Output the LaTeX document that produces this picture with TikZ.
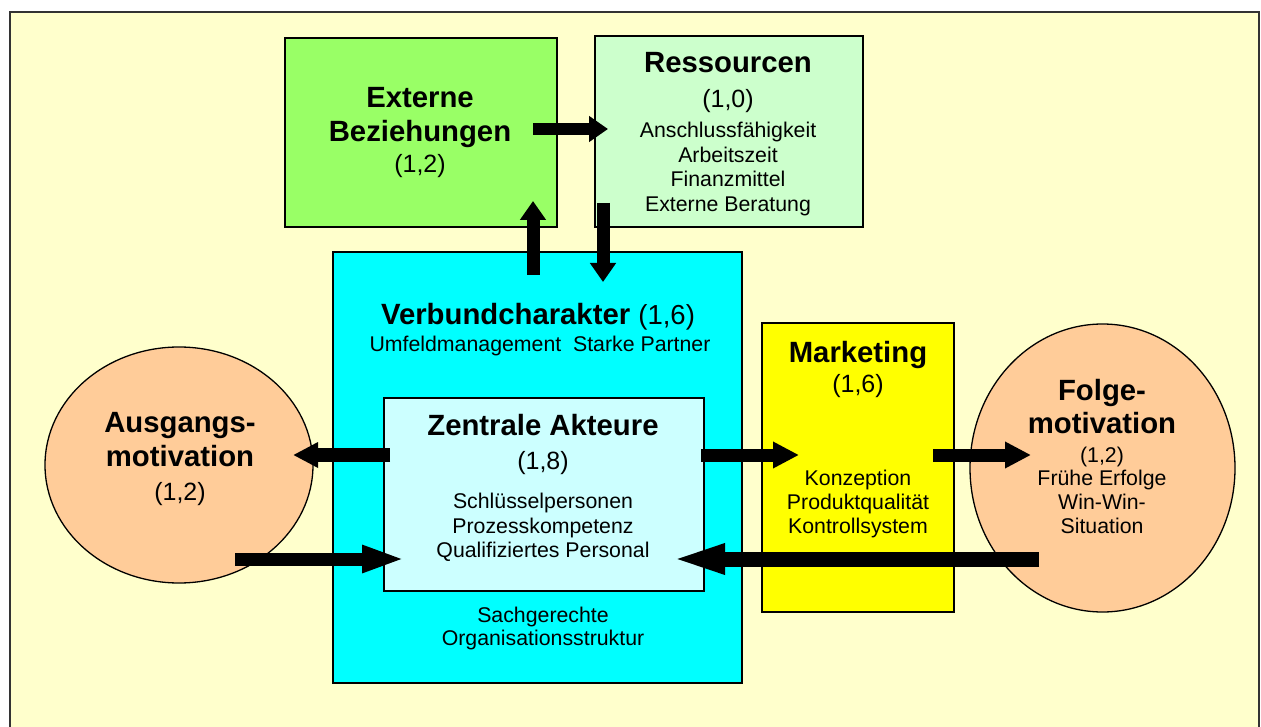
\documentclass[tikz,border=0pt]{standalone}
\usepackage{fontspec}
\setmainfont{Liberation Sans}
\usetikzlibrary{arrows.meta,shapes.geometric}
\definecolor{bgyellow}{HTML}{FFFFCC}
\definecolor{extgreen}{HTML}{99FF66}
\definecolor{resgreen}{HTML}{CCFFCC}
\definecolor{verbcyan}{HTML}{00FFFF}
\definecolor{zentcyan}{HTML}{CCFFFF}
\definecolor{mktyellow}{HTML}{FFFF00}
\definecolor{peach}{HTML}{FFCC99}
\newcommand{\ttlfont}{\bfseries\fontsize{29.3}{34}\selectfont}
\newcommand{\numfont}{\fontsize{25}{30}\selectfont}
\newcommand{\smlfont}{\fontsize{21.3}{24.5}\selectfont}
\tikzset{
  box/.style={draw=black, line width=1.5pt, inner sep=0pt},
  oval/.style={ellipse, draw=black, line width=1.3pt, inner sep=0pt},
  txt/.style={anchor=base, inner sep=0pt, align=center},
  ttl/.style={txt, font=\ttlfont},
  num/.style={txt, font=\numfont},
  sml/.style={txt, font=\smlfont},
  fat/.style args={#1/#2/#3}{draw=black, line width=#1, -{Triangle[length=#2,width=#3]}},
}
\begin{document}
\begin{tikzpicture}[x=1pt,y=-1pt]
\useasboundingbox (0,0) rectangle (1261,727);
\fill[white] (0,0) rectangle (1261,727);
% frame
\node[box, fill=bgyellow, line width=2pt, draw=black!80, minimum width=1249pt, minimum height=740pt, anchor=north west] (frame) at (8.5,11) {};
% boxes
\node[box, fill=extgreen, minimum width=272pt, minimum height=189pt] (ext) at (421,132.5) {};
\node[box, fill=resgreen, minimum width=268pt, minimum height=191pt] (res) at (729,131.5) {};
\node[box, fill=verbcyan, minimum width=409pt, minimum height=431pt] (verb) at (537.5,467.5) {};
\node[box, fill=zentcyan, minimum width=320pt, minimum height=193pt] (zent) at (544,494.5) {};
\node[box, fill=mktyellow, minimum width=192pt, minimum height=289pt] (mkt) at (858,467.5) {};
\node[oval, fill=peach, minimum width=268pt, minimum height=236pt] (aus) at (179,465) {};
\node[oval, fill=peach, minimum width=265pt, minimum height=288pt] (folge) at (1102.5,468) {};
% arrow end points
\coordinate (e1) at (533,129);  \coordinate (r1) at (608,129);
\coordinate (v1) at (533,275);  \coordinate (e2) at (533,201);
\coordinate (r2) at (603,203);  \coordinate (v2) at (603,282);
\coordinate (z1) at (390,455);  \coordinate (a1) at (293,455);
\coordinate (a2) at (235,559);  \coordinate (z2) at (405,559);
\coordinate (z3) at (701,455);  \coordinate (m1) at (799,455);
\coordinate (m2) at (933,455);  \coordinate (f1) at (1031,455);
\coordinate (f2) at (1039,559); \coordinate (z4) at (667,559);
% arrows
\draw[fat=12pt/19pt/25pt] (e1) -- (r1);
\draw[fat=13pt/19pt/25pt] (v1) -- (e2);
\draw[fat=13pt/19pt/25pt] (r2) -- (v2);
\draw[fat=14pt/25pt/24pt] (z1) -- (a1);
\draw[fat=13pt/43pt/25pt] (a2) -- (z2);
\draw[fat=13pt/26pt/25pt] (z3) -- (m1);
\draw[fat=13pt/26pt/25pt] (m2) -- (f1);
\draw[fat=15pt/58pt/26pt] (f2) -- (z4);
% texts: Externe Beziehungen
\node[ttl] (extT1) at (420,108) {Externe};
\node[ttl] (extT2) at (420,142) {Beziehungen};
\node[num] (extT3) at (420,173) {(1,2)};
% Ressourcen
\node[ttl] (resT1) at (728,73) {Ressourcen};
\node[num] (resT2) at (728,108) {(1,0)};
\node[sml] (resT3) at (728,138) {Anschlussfähigkeit};
\node[sml] (resT4) at (728,163) {Arbeitszeit};
\node[sml] (resT5) at (728,187) {Finanzmittel};
\node[sml] (resT6) at (728,212) {Externe Beratung};
% Verbundcharakter
\node[txt] (verbT1) at (538,325) {{\ttlfont Verbundcharakter\ }{\fontsize{27.5}{32}\selectfont (1,6)}};
\node[sml] (verbT2) at (540,351) {Umfeldmanagement\ \ Starke Partner};
\node[sml] (verbT3) at (543,622) {Sachgerechte};
\node[sml] (verbT4) at (543,645) {Organisationsstruktur};
% Zentrale Akteure
\node[ttl] (zentT1) at (543,435) {Zentrale Akteure};
\node[num] (zentT2) at (543,469) {(1,8)};
\node[sml] (zentT3) at (543,508) {Schlüsselpersonen};
\node[sml] (zentT4) at (543,533) {Prozesskompetenz};
\node[sml] (zentT5) at (543,557) {Qualifiziertes Personal};
% Ausgangsmotivation
\node[ttl] (ausT1) at (180,432) {Ausgangs-};
\node[ttl] (ausT2) at (180,466) {motivation};
\node[num] (ausT3) at (180,500) {(1,2)};
% Marketing
\node[ttl] (mktT1) at (858,362) {Marketing};
\node[num] (mktT2) at (858,392) {(1,6)};
\node[sml] (mktT3) at (858,485) {Konzeption};
\node[sml] (mktT4) at (858,509) {Produktqualität};
\node[sml] (mktT5) at (858,533) {Kontrollsystem};
% Folgemotivation
\node[ttl] (folT1) at (1102,400) {Folge-};
\node[ttl] (folT2) at (1102,433) {motivation};
\node[sml] (folT3) at (1102,462) {(1,2)};
\node[sml] (folT4) at (1102,485) {Frühe Erfolge};
\node[sml] (folT5) at (1102,509) {Win-Win-};
\node[sml] (folT6) at (1102,533) {Situation};
\end{tikzpicture}
\end{document}
